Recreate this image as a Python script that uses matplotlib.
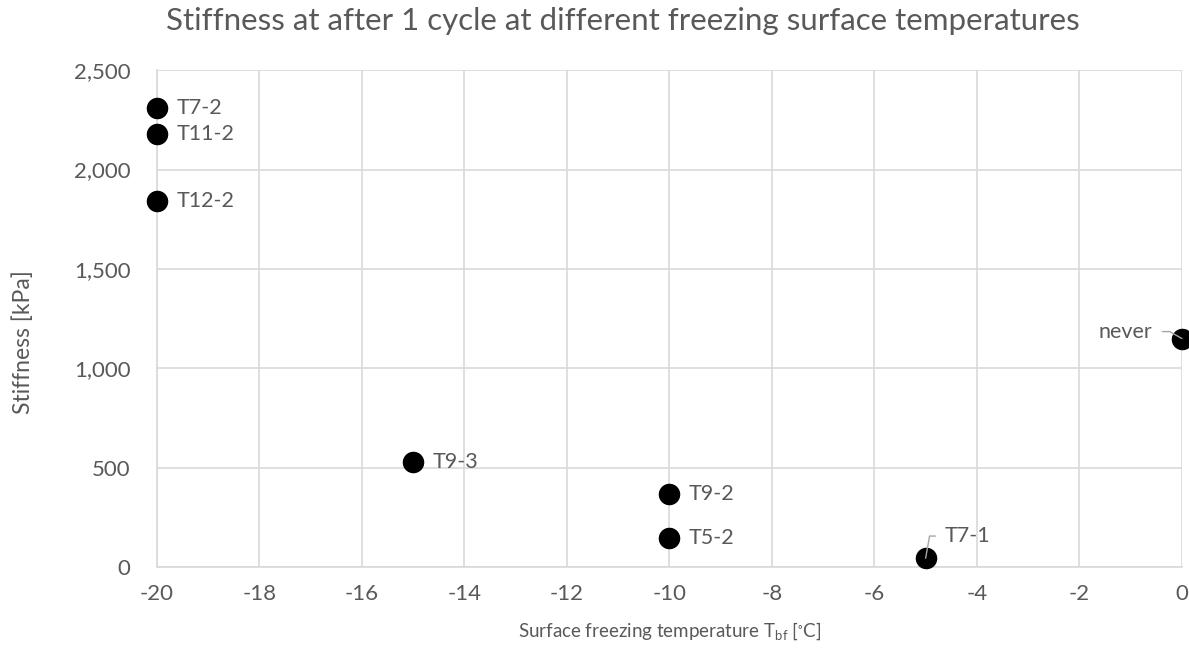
import numpy as np
import matplotlib
matplotlib.use("Agg")
import matplotlib.pyplot as plt

# stiffness after one freeze cycle, per test
temps = [-20, -20, -20, -15, -10, -10, -5, 0]
stiffness = [2310, 2180, 1840, 530, 370, 145, 45, 1150]
names = ["T7-2", "T11-2", "T12-2", "T9-3", "T9-2", "T5-2", "T7-1", "never"]

xticks = np.arange(-20, 1, 2)
yticks = np.arange(0, 2501, 500)

txt = "#595959"
grid = "#D9D9D9"

plt.rcParams['font.family'] = ['Lato', 'DejaVu Sans']
plt.rcParams['mathtext.default'] = 'regular'
plt.rcParams['axes.unicode_minus'] = False

fig = plt.figure(figsize=(11.89, 6.55), dpi=100)
ax = fig.add_axes([0.132, 0.134, 0.862, 0.759])

ax.scatter(temps, stiffness, s=210, color="black", zorder=3, clip_on=False)

ax.set_xlim(-20, 0)
ax.set_ylim(0, 2500)
ax.set_xticks(xticks)
ax.set_yticks(yticks)
ax.set_yticklabels(["{:,}".format(v) for v in yticks])
ax.grid(True, color=grid, lw=1.2)
ax.set_axisbelow(True)
for s in ["top", "right"]:
    ax.spines[s].set_visible(False)
for s in ["left", "bottom"]:
    ax.spines[s].set_color(grid)
    ax.spines[s].set_linewidth(1.2)
ax.tick_params(axis="y", length=0, labelsize=16, colors=txt, pad=19)
ax.tick_params(axis="x", length=0, labelsize=16, colors=txt, pad=12)

# point labels; two of them sit on leader lines
leader = dict(arrowstyle="-", color="#A6A6A6", lw=1, shrinkA=5, shrinkB=0)
for x, y, n in zip(temps, stiffness, names):
    if n == "never":
        ax.annotate(n, (x, y), xytext=(-21, 5), textcoords="offset points",
                    fontsize=15.5, color=txt, ha="right", va="center",
                    arrowprops=dict(leader, connectionstyle="angle,angleA=0,angleB=-30,rad=0"))
    elif n == "T7-1":
        ax.annotate(n, (x, y), xytext=(14, 16), textcoords="offset points",
                    fontsize=15.5, color=txt, ha="left", va="center",
                    arrowprops=dict(leader, connectionstyle="angle,angleA=0,angleB=80,rad=0"))
    else:
        ax.annotate(n, (x, y), xytext=(14, 0), textcoords="offset points",
                    fontsize=15.5, color=txt, ha="left", va="center")

ax.set_xlabel(r"Surface freezing temperature T$_{bf}$ [$^{\circ}$C]",
              fontsize=13.5, color=txt, labelpad=12)
ax.set_ylabel("Stiffness [kPa]", fontsize=16.5, color=txt)
ax.yaxis.set_label_coords(-0.12, 0.453)
fig.suptitle("Stiffness at after 1 cycle at different freezing surface temperatures",
             fontsize=22.5, color=txt, x=0.524, y=0.99)

fig.savefig("out.png", dpi=100)
